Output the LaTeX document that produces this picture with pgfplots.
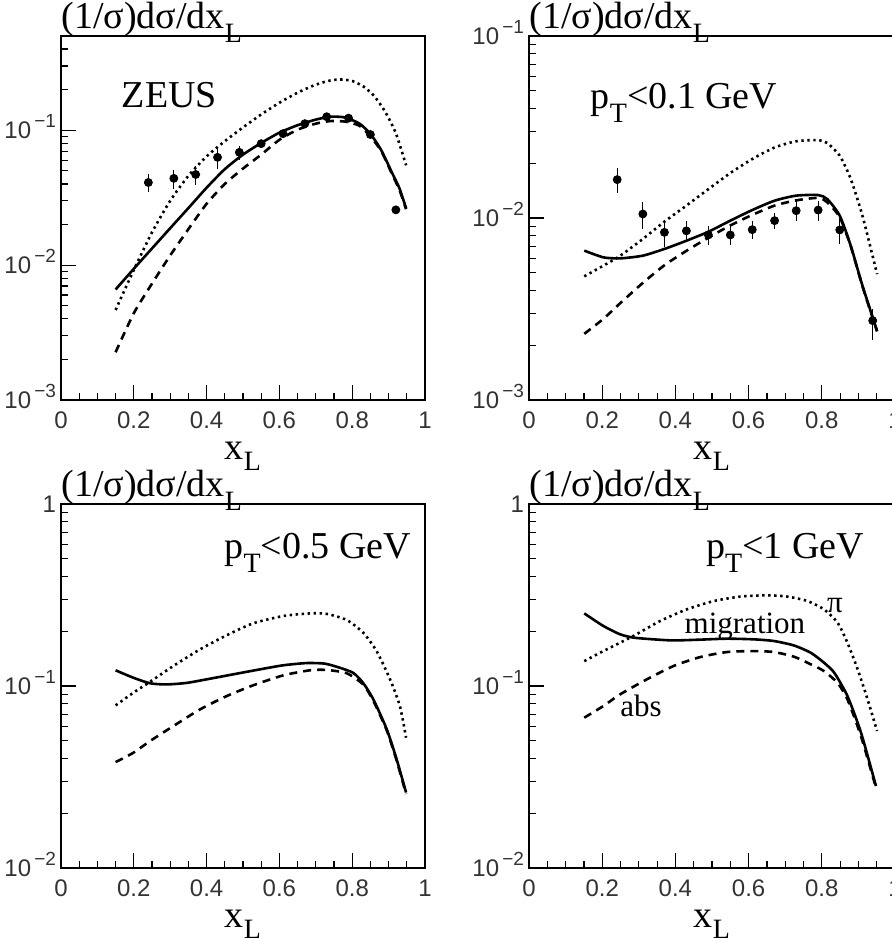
\documentclass[border=0pt]{standalone}
\usepackage{fontspec}
\setmainfont{Liberation Serif}
\setsansfont{Liberation Sans}
\usepackage{pgfplots}
\pgfplotsset{compat=1.18}

\newcommand\bigfont{\fontsize{19}{19}\selectfont}
\newcommand\tickfont{\sffamily\fontsize{12}{12}\selectfont\color{black!80}}
\newcommand\sub[1]{\raisebox{-7pt}{\fontsize{14}{14}\selectfont #1}}
\newcommand\tp[1]{10\raisebox{0.85ex}{\fontsize{9.5}{9.5}\selectfont\,−#1}}

\pgfplotsset{
  every axis title/.style={font=\bigfont, at={(rel axis cs:0,1)}, anchor=base west, yshift=4pt, inner sep=0pt},
  mypanel/.style={
    scale only axis, width=182pt, height=182pt,
    xmin=0, xmax=1,
    xtick={0,0.2,0.4,0.6,0.8,1}, xticklabels={0,0.2,0.4,0.6,0.8,1},
    minor x tick num=3,
    tick align=inside, xtick pos=bottom, ytick pos=left,
    major tick length=7.5pt, minor tick length=3.5pt,
    tick style={black, line width=0.6pt},
    axis line style={line width=0.6pt},
    xticklabel style={font=\tickfont, anchor=base, yshift=-14pt},
    yticklabel style={font=\tickfont, anchor=base east, yshift=-4pt, xshift=1pt},
    xlabel={x\raisebox{-5.5pt}{\fontsize{14}{14}\selectfont L}},
    xlabel style={font=\bigfont, at={(rel axis cs:0.5,0)}, anchor=base, yshift=-29.5pt},
    title={(1/σ)dσ/dx\sub{L}},
    clip=false,
  },
  mysol/.style={black, line width=1.3pt, smooth, tension=0.4},
  mydsh/.style={black, line width=1.3pt, dash pattern=on 4pt off 3pt, smooth, tension=0.4},
  mydot/.style={black, line width=1.3pt, dash pattern=on 1.2pt off 1.8pt, smooth, tension=0.4},
  mypts/.style={black, only marks, mark=*, mark size=2pt,
    error bars/y dir=both, error bars/y explicit, error bars/error mark=none,
    error bars/error bar style={line width=0.6pt}},
}

\begin{document}
\begin{tikzpicture}
\useasboundingbox (0,0) rectangle (446pt,-470.5pt);

% top left
\begin{axis}[mypanel, ymode=log, at={(30.5pt,-18pt)}, anchor=north west,
  ymin=1e-3, ymax=0.5,
  ytick={1e-3,1e-2,1e-1}, yticklabels={\tp{3},\tp{2},\tp{1}},
  minor ytick={2e-3,3e-3,4e-3,5e-3,6e-3,7e-3,8e-3,9e-3,2e-2,3e-2,4e-2,5e-2,6e-2,7e-2,8e-2,9e-2,0.2,0.3,0.4}]
\draw[line width=1.1pt] (rel axis cs:0,0) -- (rel axis cs:1,0);
\addplot[mydot] coordinates {(0.15,0.00465)(0.20,0.0092)(0.25,0.0175)(0.30,0.030)(0.35,0.046)(0.40,0.064)(0.45,0.083)(0.50,0.105)(0.55,0.131)(0.60,0.160)(0.65,0.190)(0.70,0.218)(0.74,0.234)(0.77,0.238)(0.80,0.232)(0.83,0.212)(0.86,0.18)(0.89,0.138)(0.92,0.095)(0.948,0.055)};
\addplot[mydsh] coordinates {(0.15,0.00226)(0.20,0.0044)(0.25,0.0073)(0.30,0.0118)(0.35,0.0185)(0.40,0.0285)(0.45,0.040)(0.50,0.052)(0.55,0.066)(0.60,0.085)(0.65,0.101)(0.70,0.112)(0.74,0.117)(0.78,0.116)(0.82,0.108)(0.85,0.090)(0.88,0.070)(0.91,0.047)(0.93,0.036)(0.948,0.026)};
\addplot[mysol] coordinates {(0.15,0.0066)(0.20,0.0094)(0.25,0.0133)(0.30,0.0188)(0.35,0.0265)(0.40,0.0375)(0.45,0.0515)(0.50,0.066)(0.55,0.0805)(0.60,0.096)(0.65,0.109)(0.70,0.120)(0.74,0.126)(0.78,0.1245)(0.82,0.112)(0.85,0.094)(0.88,0.071)(0.91,0.048)(0.93,0.037)(0.948,0.0264)};
\addplot[mypts] coordinates {
  (0.24,0.041) +- (0,0.006)
  (0.31,0.044) +- (0,0.007)
  (0.37,0.047) +- (0,0.0075)
  (0.43,0.063) +- (0,0.011)
  (0.49,0.0686) +- (0,0.008)
  (0.55,0.0796) +- (0,0.004)
  (0.61,0.0944) +- (0,0.004)
  (0.67,0.112) +- (0,0.004)
  (0.73,0.126) +- (0,0.004)
  (0.79,0.123) +- (0,0.004)
  (0.85,0.093) +- (0,0.004)
  (0.92,0.0257) +- (0,0.001)};
\node[font=\bigfont, anchor=base west] at (rel axis cs:0.148,0.804) {ZEUS};
\end{axis}

% top right
\begin{axis}[mypanel, ymode=log, at={(264.5pt,-18pt)}, anchor=north west, width=183pt,
  ymin=1e-3, ymax=1e-1,
  ytick={1e-3,1e-2,1e-1}, yticklabels={\tp{3},\tp{2},\tp{1}},
  minor ytick={2e-3,3e-3,4e-3,5e-3,6e-3,7e-3,8e-3,9e-3,2e-2,3e-2,4e-2,5e-2,6e-2,7e-2,8e-2,9e-2}]
\draw[line width=1.1pt] (rel axis cs:0,0) -- (rel axis cs:1,0);
\addplot[mydot] coordinates {(0.151,0.00478)(0.203,0.00547)(0.249,0.0062)(0.311,0.00767)(0.37,0.00955)(0.43,0.0117)(0.49,0.0144)(0.55,0.01766)(0.61,0.0211)(0.671,0.0244)(0.73,0.0264)(0.79,0.0268)(0.815,0.0258)(0.849,0.022)(0.879,0.0164)(0.911,0.0103)(0.951,0.00492)};
\addplot[mydsh] coordinates {(0.151,0.00231)(0.203,0.00279)(0.249,0.00340)(0.311,0.00440)(0.37,0.0055)(0.43,0.0066)(0.49,0.0078)(0.55,0.0091)(0.61,0.0104)(0.671,0.0117)(0.73,0.0125)(0.79,0.0129)(0.815,0.0122)(0.849,0.0101)(0.879,0.0070)(0.911,0.00422)(0.951,0.00238)};
\addplot[mysol] coordinates {(0.151,0.00662)(0.203,0.00608)(0.249,0.0060)(0.311,0.00621)(0.37,0.00676)(0.43,0.0075)(0.49,0.0084)(0.55,0.00967)(0.61,0.01106)(0.671,0.01245)(0.73,0.01327)(0.79,0.01337)(0.815,0.0127)(0.849,0.0103)(0.879,0.00705)(0.911,0.00425)(0.951,0.0024)};
\addplot[mypts] coordinates {
  (0.241,0.01625) +- (0,0.0025)
  (0.311,0.01052) +- (0,0.0018)
  (0.37,0.00834) +- (0,0.0014)
  (0.43,0.0085) +- (0,0.0011)
  (0.49,0.00807) +- (0,0.001)
  (0.55,0.00807) +- (0,0.001)
  (0.61,0.00863) +- (0,0.001)
  (0.671,0.00967) +- (0,0.001)
  (0.73,0.01097) +- (0,0.0014)
  (0.79,0.01106) +- (0,0.0014)
  (0.849,0.0086) +- (0,0.0014)
  (0.939,0.00273) += (0,0.00043) -= (0,0.0006)};
\node[font=\bigfont, anchor=base west] at (rel axis cs:0.150,0.802) {p\sub{T}<0.1 GeV};
\end{axis}

% bottom left
\begin{axis}[mypanel, ymode=log, at={(30.5pt,-252pt)}, anchor=north west,
  ymin=1e-2, ymax=1,
  ytick={1e-2,1e-1,1}, yticklabels={\tp{2},\tp{1},1},
  minor ytick={2e-2,3e-2,4e-2,5e-2,6e-2,7e-2,8e-2,9e-2,0.2,0.3,0.4,0.5,0.6,0.7,0.8,0.9}]
\draw[line width=1.1pt] (rel axis cs:0,0) -- (rel axis cs:1,0);
\addplot[mydot] coordinates {(0.15,0.0783)(0.199,0.0919)(0.245,0.1056)(0.309,0.129)(0.382,0.159)(0.455,0.19)(0.528,0.221)(0.611,0.2425)(0.684,0.2506)(0.73,0.249)(0.785,0.2305)(0.83,0.1965)(0.867,0.1556)(0.904,0.1088)(0.931,0.0776)(0.948,0.052)};
\addplot[mydsh] coordinates {(0.15,0.0382)(0.199,0.043)(0.245,0.0499)(0.309,0.0603)(0.382,0.0744)(0.455,0.088)(0.528,0.1009)(0.611,0.1145)(0.684,0.122)(0.73,0.1225)(0.785,0.1175)(0.83,0.102)(0.858,0.083)(0.895,0.057)(0.922,0.039)(0.948,0.0255)};
\addplot[mysol] coordinates {(0.15,0.122)(0.199,0.111)(0.245,0.1035)(0.29,0.102)(0.345,0.104)(0.4,0.1088)(0.473,0.1159)(0.547,0.1235)(0.611,0.13)(0.675,0.1337)(0.725,0.1327)(0.766,0.126)(0.803,0.118)(0.83,0.104)(0.858,0.0845)(0.895,0.0578)(0.922,0.0396)(0.948,0.026)};
\node[font=\bigfont, anchor=base east] at (rel axis cs:0.981,0.849) {p\sub{T}<0.5 GeV};
\end{axis}

% bottom right
\begin{axis}[mypanel, ymode=log, at={(264.5pt,-252pt)}, anchor=north west, width=183pt,
  ymin=1e-2, ymax=1,
  ytick={1e-2,1e-1,1}, yticklabels={\tp{2},\tp{1},1},
  minor ytick={2e-2,3e-2,4e-2,5e-2,6e-2,7e-2,8e-2,9e-2,0.2,0.3,0.4,0.5,0.6,0.7,0.8,0.9}]
\draw[line width=1.1pt] (rel axis cs:0,0) -- (rel axis cs:1,0);
\addplot[mydot] coordinates {(0.151,0.137)(0.203,0.1556)(0.285,0.1883)(0.358,0.2275)(0.431,0.2636)(0.505,0.293)(0.578,0.31)(0.651,0.315)(0.706,0.31)(0.761,0.293)(0.806,0.2636)(0.843,0.2228)(0.87,0.173)(0.898,0.1235)(0.925,0.0845)(0.951,0.0566)};
\addplot[mydsh] coordinates {(0.151,0.067)(0.203,0.0776)(0.249,0.090)(0.322,0.1088)(0.395,0.1288)(0.468,0.1443)(0.541,0.1537)(0.614,0.1556)(0.669,0.1537)(0.724,0.1449)(0.77,0.1315)(0.806,0.1208)(0.843,0.104)(0.87,0.0845)(0.907,0.053)(0.948,0.0276)};
\addplot[mysol] coordinates {(0.151,0.2506)(0.203,0.2138)(0.249,0.1923)(0.285,0.1845)(0.34,0.1805)(0.395,0.178)(0.468,0.1798)(0.541,0.182)(0.614,0.1805)(0.669,0.1767)(0.724,0.167)(0.77,0.1523)(0.806,0.1343)(0.834,0.1183)(0.87,0.0881)(0.907,0.0555)(0.948,0.0282)};
\node[font=\bigfont, anchor=base east] at (rel axis cs:0.934,0.849) {p\sub{T}<1 GeV};
\node[font=\fontsize{15.5}{15.5}\selectfont, anchor=base] at (axis cs:0.59,0.195) {migration};
\node[font=\fontsize{15.5}{15.5}\selectfont, anchor=base] at (axis cs:0.836,0.252) {π};
\node[font=\fontsize{15.5}{15.5}\selectfont, anchor=base] at (axis cs:0.306,0.0676) {abs};
\end{axis}
\end{tikzpicture}
\end{document}
